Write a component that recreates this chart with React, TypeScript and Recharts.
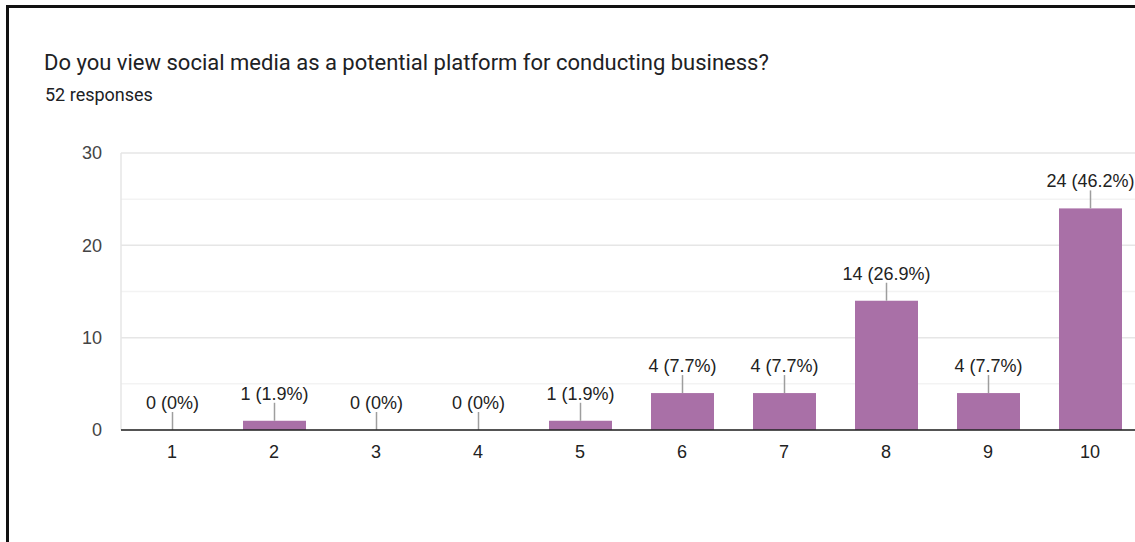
import { BarChart, Bar, XAxis, YAxis, CartesianGrid } from 'recharts';

const categories = ['1', '2', '3', '4', '5', '6', '7', '8', '9', '10'];
const counts = [0, 1, 0, 0, 1, 4, 4, 14, 4, 24];
const percentLabels = ['0%', '1.9%', '0%', '0%', '1.9%', '7.7%', '7.7%', '26.9%', '7.7%', '46.2%'];
const yTicks = [0, 10, 20, 30];
const minorGridValues = [5, 15, 25];

const data = categories.map((name, i) => ({
  name,
  count: counts[i],
  label: `${counts[i]} (${percentLabels[i]})`,
}));

const FONT = "Arial, 'Liberation Sans', sans-serif";

// bar + leader line + label, so zero-value categories still get their label
function LabelledBar(props: any) {
  const { x, y, width, height, fill, payload } = props;
  const cx = x + width / 2;
  return (
    <g>
      {height > 0.5 && <rect x={x} y={y} width={width} height={height} fill={fill} />}
      <line x1={cx} x2={cx} y1={y} y2={y - 18} stroke="#9e9e9e" strokeWidth={1.5} />
      <text x={cx} y={y - 21} textAnchor="middle" fontSize={18} fill="#222" fontFamily={FONT}>
        {payload.label}
      </text>
    </g>
  );
}

export default function App() {
  return (
    <div
      style={{
        position: 'fixed',
        left: 0,
        top: 0,
        width: 1135,
        height: 542,
        overflow: 'hidden',
        background: '#fff',
      }}
    >
      <div
        style={{
          position: 'absolute',
          left: 6,
          top: 5,
          width: 1300,
          height: 700,
          borderTop: '3px solid #111',
          borderLeft: '3px solid #111',
        }}
      />
      <div
        style={{
          position: 'absolute',
          left: 44,
          top: 52,
          fontFamily: 'Roboto, sans-serif',
          fontSize: 22,
          lineHeight: '22px',
          color: '#202124',
          whiteSpace: 'nowrap',
        }}
      >
        Do you view social media as a potential platform for conducting business?
      </div>
      <div
        style={{
          position: 'absolute',
          left: 45,
          top: 86,
          fontFamily: 'Roboto, sans-serif',
          fontSize: 18,
          lineHeight: '18px',
          color: '#202124',
          whiteSpace: 'nowrap',
        }}
      >
        52 responses
      </div>
      <div style={{ position: 'absolute', left: 0, top: 0 }}>
        <BarChart
          width={1151}
          height={542}
          data={data}
          margin={{ top: 153, right: 10, bottom: 82, left: 41 }}
        >
          <CartesianGrid vertical={false} horizontalValues={minorGridValues} stroke="#f3f3f3" strokeWidth={1.5} />
          <CartesianGrid vertical={false} stroke="#e6e6e6" strokeWidth={1.5} />
          <YAxis
            domain={[0, 30]}
            ticks={yTicks}
            width={80}
            tickLine={false}
            tickSize={0}
            tickMargin={19}
            axisLine={{ stroke: '#e6e6e6', strokeWidth: 1.5 }}
            tick={{ fontSize: 18, fill: '#444', fontFamily: FONT }}
          />
          <XAxis
            dataKey="name"
            height={30}
            tickLine={false}
            tickSize={0}
            tickMargin={15}
            axisLine={{ stroke: '#222', strokeWidth: 1.5 }}
            tick={{ fontSize: 18, fill: '#222', fontFamily: FONT }}
          />
          <Bar
            dataKey="count"
            fill="#a970a7"
            barSize={63}
            minPointSize={0.01}
            shape={LabelledBar}
            isAnimationActive={false}
          />
        </BarChart>
      </div>
    </div>
  );
}
